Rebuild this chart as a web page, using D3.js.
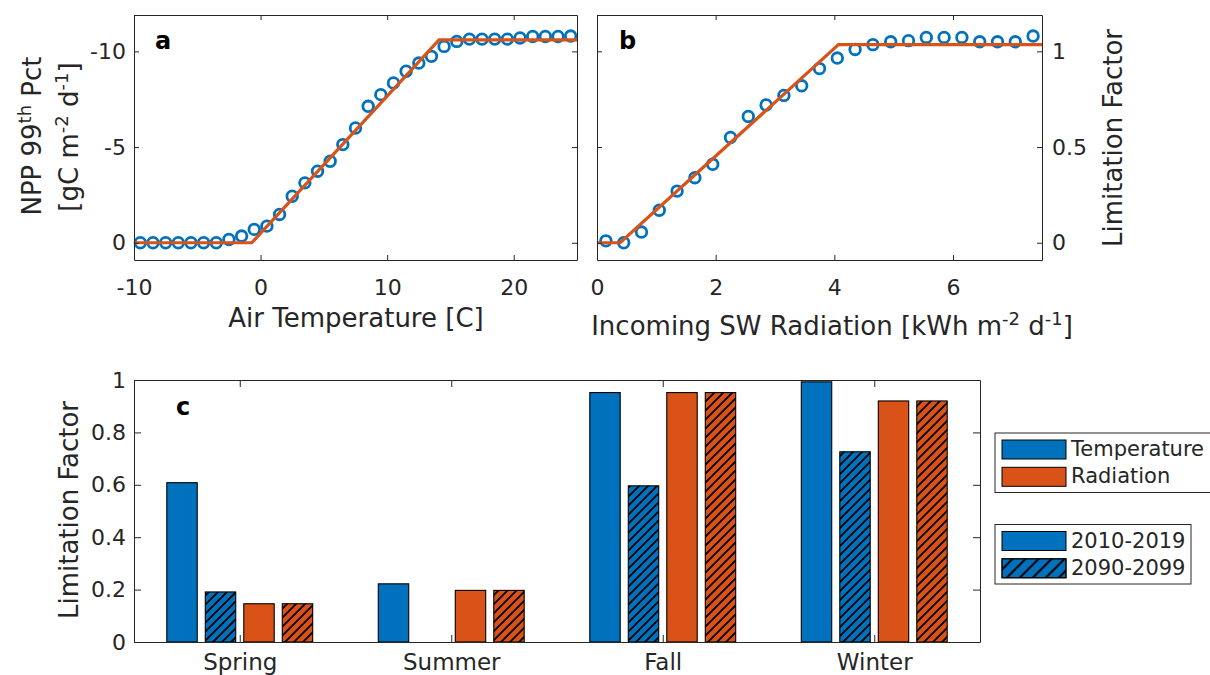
<!DOCTYPE html>
<html>
<head>
<meta charset="utf-8">
<script src="https://cdn.jsdelivr.net/npm/d3@7"></script>
<style>
  body { margin: 0; background: #fff; }
  svg { display: block; font-family: 'DejaVu Sans', sans-serif; }
</style>
</head>
<body>
<svg id="chart" width="1210" height="675"></svg>
<script>
// panel a: NPP 99th percentile per air temperature bin
const tempBins = [-9.5, -8.5, -7.5, -6.5, -5.5, -4.5, -3.5, -2.5, -1.5, -0.5, 0.5, 1.5,
  2.5, 3.5, 4.5, 5.5, 6.5, 7.5, 8.5, 9.5, 10.5, 11.5, 12.5, 13.5, 14.5, 15.5, 16.5,
  17.5, 18.5, 19.5, 20.5, 21.5, 22.5, 23.5, 24.5];
const tempNpp = [0, 0, 0, 0, 0, 0, 0, -0.17, -0.35, -0.7, -0.87, -1.48, -2.43, -3.13,
  -3.74, -4.26, -5.13, -6.0, -7.13, -7.74, -8.35, -8.96, -9.39, -9.74, -10.26, -10.52,
  -10.64, -10.64, -10.64, -10.64, -10.7, -10.78, -10.78, -10.78, -10.8];
const tempFitX = [-10, -0.7, 14.1, 25];
const tempFitY = [0, 0, -10.6, -10.6];
const tempTicks = [-10, 0, 10, 20];
const tempTickLabels = ['-10', '0', '10', '20'];
const nppTicks = [0, -5, -10];
const nppTickLabels = ['0', '-5', '-10'];

// panel b: limitation factor per radiation bin
const radBins = [0.15, 0.45, 0.75, 1.05, 1.35, 1.65, 1.95, 2.25, 2.55, 2.85, 3.15, 3.45,
  3.75, 4.05, 4.35, 4.65, 4.95, 5.25, 5.55, 5.85, 6.15, 6.45, 6.75, 7.05, 7.35];
const radLim = [0.01, 0, 0.056, 0.17, 0.27, 0.34, 0.41, 0.55, 0.66, 0.72, 0.77, 0.82,
  0.91, 0.965, 1.01, 1.035, 1.05, 1.056, 1.073, 1.073, 1.073, 1.05, 1.05, 1.05, 1.08];
const radFitX = [0, 0.39, 4.07, 7.5];
const radFitY = [0, 0, 1.035, 1.035];
const radTicks = [0, 2, 4, 6];
const radTickLabels = ['0', '2', '4', '6'];
const limTicksB = [0, 0.5, 1];
const limTickLabelsB = ['0', '0.5', '1'];

// panel c: seasonal limitation factors
const seasons = ['Spring', 'Summer', 'Fall', 'Winter'];
const temp2010 = [0.608, 0.222, 0.952, 0.993];
const temp2090 = [0.191, null, 0.596, 0.726];
const rad2010 = [0.146, 0.197, 0.952, 0.92];
const rad2090 = [0.146, 0.197, 0.952, 0.92];
const limTicksC = [0, 0.2, 0.4, 0.6, 0.8, 1];
const limTickLabelsC = ['0', '0.2', '0.4', '0.6', '0.8', '1'];
const factorLabels = ['Temperature', 'Radiation'];
const periodLabels = ['2010-2019', '2090-2099'];

const BLUE = '#0072BD';
const ORANGE = '#D95319';
const INK = '#262626';
const TICK_FONT = 22;
const LABEL_FONT = 26;

const svg = d3.select('#chart');
svg.append('rect').attr('width', 1210).attr('height', 675).attr('fill', '#fff');

const defs = svg.append('defs');
function hatchPattern(id, step, width) {
  defs.append('pattern')
    .attr('id', id)
    .attr('patternUnits', 'userSpaceOnUse')
    .attr('width', step)
    .attr('height', step)
    .append('path')
    .attr('d', `M-1,1 L1,-1 M0,${step} L${step},0 M${step - 1},${step + 1} L${step + 1},${step - 1}`)
    .attr('stroke', '#000')
    .attr('stroke-width', width);
}
hatchPattern('hatch', 9, 1.8);
hatchPattern('hatchWide', 13, 2);

function styleAxis(g) {
  g.attr('font-family', null).attr('font-size', TICK_FONT);
  g.select('.domain').attr('stroke', INK).attr('stroke-width', 1);
  g.selectAll('.tick line').attr('stroke', INK);
  g.selectAll('.tick text').attr('fill', INK);
}

// box with inward ticks on all four sides, labels where given
function box(x, y, o) {
  const [xl, xr] = x.range();
  const [yb, yt] = y.range();
  const lab = labels => (d, i) => (labels ? labels[i] : '');
  svg.append('g')
    .attr('transform', `translate(0,${yb})`)
    .call(d3.axisBottom(x).tickValues(o.xTicks).tickFormat(lab(o.xLabels))
      .tickSizeInner(-o.tick).tickSizeOuter(0).tickPadding(o.xPad))
    .call(styleAxis)
    .attr('font-size', o.xFont || TICK_FONT);
  svg.append('g')
    .attr('transform', `translate(0,${yt})`)
    .call(d3.axisTop(x).tickValues(o.xTicks).tickFormat(() => '')
      .tickSizeInner(-o.tick).tickSizeOuter(0))
    .call(styleAxis);
  svg.append('g')
    .attr('transform', `translate(${xl},0)`)
    .call(d3.axisLeft(y).tickValues(o.yTicks).tickFormat(lab(o.yLeft))
      .tickSizeInner(-o.tick).tickSizeOuter(0).tickPadding(8))
    .call(styleAxis);
  svg.append('g')
    .attr('transform', `translate(${xr},0)`)
    .call(d3.axisRight(y).tickValues(o.yTicks).tickFormat(lab(o.yRight))
      .tickSizeInner(-o.tick).tickSizeOuter(0).tickPadding(10))
    .call(styleAxis);
}

// text with superscripts: parts = [[text, isSup], ...]
function richText(t, parts) {
  let up = false;
  parts.forEach(([s, sup]) => {
    const span = t.append('tspan').text(s);
    if (sup && !up) { span.attr('dy', -10).attr('font-size', 18); up = true; }
    else if (sup) { span.attr('font-size', 18); }
    else if (up) { span.attr('dy', 10); up = false; }
  });
  return t;
}

function label(x, y, rot, parts, size) {
  const t = svg.append('text')
    .attr('transform', `translate(${x},${y}) rotate(${rot})`)
    .attr('text-anchor', 'middle')
    .attr('font-size', size || LABEL_FONT)
    .attr('fill', INK);
  return richText(t, parts);
}

function panelLetter(x, y, s) {
  svg.append('text').attr('x', x).attr('y', y)
    .attr('font-size', 24).attr('font-weight', 'bold').attr('fill', '#000')
    .text(s);
}

function curvePanel(x, y, bx, by, fx, fy) {
  const fit = d3.line().x(d => x(d[0])).y(d => y(d[1]));
  svg.append('g').selectAll('circle')
    .data(d3.zip(bx, by))
    .join('circle')
    .attr('cx', d => x(d[0]))
    .attr('cy', d => y(d[1]))
    .attr('r', 5.3)
    .attr('fill', 'none')
    .attr('stroke', BLUE)
    .attr('stroke-width', 2.8);
  svg.append('path')
    .attr('d', fit(d3.zip(fx, fy)))
    .attr('fill', 'none')
    .attr('stroke', ORANGE)
    .attr('stroke-width', 3.2);
}

// ---- panel a
const xa = d3.scaleLinear().domain([-10, 25]).range([134, 577]);
const ya = d3.scaleLinear().domain([0.9, -11.9]).range([260, 15]);
curvePanel(xa, ya, tempBins, tempNpp, tempFitX, tempFitY);
box(xa, ya, { xTicks: tempTicks, xLabels: tempTickLabels, yTicks: nppTicks,
  yLeft: nppTickLabels, tick: 5, xPad: 19 });
panelLetter(155, 49, 'a');
label(356, 327, 0, [['Air Temperature [C]']]);
label(41, 136, -90, [['NPP 99'], ['th', true], [' Pct']]);
label(78, 137, -90, [['[gC m'], ['-2', true], [' d'], ['-1', true], [']']]);

// ---- panel b
const xb = d3.scaleLinear().domain([0, 7.5]).range([597, 1042]);
const yb = d3.scaleLinear().domain([-0.09, 1.19]).range([260, 15]);
curvePanel(xb, yb, radBins, radLim, radFitX, radFitY);
box(xb, yb, { xTicks: radTicks, xLabels: radTickLabels, yTicks: limTicksB,
  yRight: limTickLabelsB, tick: 5, xPad: 19 });
panelLetter(619, 49, 'b');
label(832, 335, 0, [['Incoming SW Radiation [kWh m'], ['-2', true], [' d'], ['-1', true], [']']]);
label(1122, 138, -90, [['Limitation Factor']]);

// ---- panel c
const xc = d3.scaleLinear().domain([0.5, 4.5]).range([134, 980]);
const yc = d3.scaleLinear().domain([0, 1]).range([642, 380]);
const barSeries = [
  { values: temp2010, color: BLUE, hatched: false },
  { values: temp2090, color: BLUE, hatched: true },
  { values: rad2010, color: ORANGE, hatched: false },
  { values: rad2090, color: ORANGE, hatched: true },
];
const unit = xc(2) - xc(1);
const inner = d3.scaleBand()
  .domain(d3.range(barSeries.length))
  .range([-0.364 * unit, 0.364 * unit])
  .paddingInner(0.21)
  .paddingOuter(0.105);

barSeries.forEach((s, si) => {
  const pts = seasons.map((c, i) => ({ i, v: s.values[i] })).filter(d => d.v != null);
  const g = svg.append('g');
  const place = sel => sel
    .attr('x', d => xc(d.i + 1) + inner(si))
    .attr('y', d => yc(d.v))
    .attr('width', inner.bandwidth())
    .attr('height', d => yc(0) - yc(d.v));
  g.selectAll('rect.fill').data(pts).join('rect').attr('class', 'fill')
    .call(place).attr('fill', s.color);
  if (s.hatched) {
    g.selectAll('rect.hatch').data(pts).join('rect').attr('class', 'hatch')
      .call(place).attr('fill', 'url(#hatch)');
  }
  g.selectAll('rect.edge').data(pts).join('rect').attr('class', 'edge')
    .call(place).attr('fill', 'none').attr('stroke', '#000').attr('stroke-width', 1.1);
});

box(xc, yc, { xTicks: [1, 2, 3, 4], xLabels: seasons, yTicks: limTicksC,
  yLeft: limTickLabelsC, tick: 7, xPad: 12, xFont: 23 });
panelLetter(176, 415, 'c');
label(78, 510, -90, [['Limitation Factor']]);

// ---- legends
function legend(y0, h, w, entries) {
  const g = svg.append('g').attr('transform', `translate(995,${y0})`);
  g.append('rect').attr('width', w).attr('height', h)
    .attr('fill', '#fff').attr('stroke', INK).attr('stroke-width', 1);
  entries.forEach((e, i) => {
    const ey = 7 + i * 27.3;
    g.append('rect').attr('x', 7).attr('y', ey).attr('width', 64).attr('height', 19)
      .attr('fill', e.color).attr('stroke', '#000').attr('stroke-width', 1);
    if (e.hatched) {
      g.append('rect').attr('x', 7).attr('y', ey).attr('width', 64).attr('height', 19)
        .attr('fill', 'url(#hatchWide)').attr('stroke', '#000').attr('stroke-width', 1);
    }
    g.append('text').attr('x', 76).attr('y', ey + 16)
      .attr('font-size', 21).attr('fill', INK).text(e.label);
  });
}
legend(433, 59.5, 230, [
  { label: factorLabels[0], color: BLUE },
  { label: factorLabels[1], color: ORANGE },
]);
legend(524.5, 59.5, 196, [
  { label: periodLabels[0], color: BLUE },
  { label: periodLabels[1], color: BLUE, hatched: true },
]);
</script>
</body>
</html>
